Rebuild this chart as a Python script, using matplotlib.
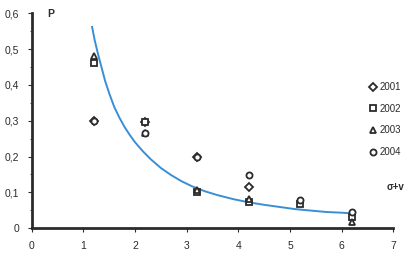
'''P versus sigma+v, yearly points with fitted curve'''

import numpy as np
import matplotlib
matplotlib.use("Agg")
import matplotlib.pyplot as plt
from matplotlib.lines import Line2D

# data
x_vals = [1.2, 2.2, 3.2, 4.2, 5.2, 6.2]
p_2001 = [0.30, 0.295, 0.20, 0.115, np.nan, np.nan]
p_2002 = [0.46, 0.295, 0.10, 0.072, 0.067, 0.030]
p_2003 = [0.48, 0.265, 0.107, 0.080, np.nan, 0.016]
p_2004 = [0.30, 0.265, 0.20, 0.147, 0.078, 0.044]
years = ["2001", "2002", "2003", "2004"]

# fitted curve, read as points along the line
curve_x = [1.17, 1.22, 1.29, 1.36, 1.42, 1.5, 1.6, 1.7, 1.8, 1.9, 2.0,
           2.15, 2.3, 2.5, 2.7, 2.9, 3.1, 3.35, 3.6, 3.9, 4.2, 4.5, 4.8,
           5.1, 5.4, 5.7, 6.0, 6.2]
curve_y = [0.562, 0.525, 0.483, 0.445, 0.412, 0.377, 0.338, 0.308, 0.282,
           0.260, 0.240, 0.215, 0.193, 0.168, 0.148, 0.131, 0.117, 0.103,
           0.092, 0.081, 0.072, 0.065, 0.059, 0.053, 0.049, 0.045, 0.043,
           0.041]

x_ticks = [0, 1, 2, 3, 4, 5, 6, 7]
y_ticks = [0, 0.1, 0.2, 0.3, 0.4, 0.5, 0.6]
y_labels = ["0", "0,1", "0,2", "0,3", "0,4", "0,5", "0,6"]

plt.rcParams['font.family'] = ['Liberation Sans', 'DejaVu Sans']
dark = "#2b2b2b"

fig = plt.figure(figsize=(4.11, 2.56), dpi=100)
ax = fig.add_axes([0.077, 0.109, 0.880, 0.839])

ax.plot(curve_x, curve_y, color="#3a8ed6", lw=1.4, zorder=2)

styles = [("D", 3.6), ("s", 3.8), ("^", 4.4), ("o", 4.4)]
series = [p_2001, p_2002, p_2003, p_2004]
for vals, (m, ms) in zip(series, styles):
    ax.plot(x_vals, vals, ls="none", marker=m, ms=ms, mfc="white",
            mec=dark, mew=1.3, zorder=3)

ax.set_xlim(0, 7)
ax.set_ylim(0, 0.6)
ax.set_xticks(x_ticks)
ax.set_yticks(y_ticks)
ax.set_yticklabels(y_labels)
ax.set_yticks(np.arange(0.05, 0.6, 0.1), minor=True)

for side in ["top", "right"]:
    ax.spines[side].set_visible(False)
for side in ["left", "bottom"]:
    ax.spines[side].set_color(dark)
    ax.spines[side].set_linewidth(2.0)

ax.tick_params(axis="x", length=3, width=0.8, color=dark, labelsize=7.5,
               labelcolor=dark, pad=6)
ax.tick_params(axis="y", which="major", length=3, width=0.8, color=dark,
               labelsize=7.5, labelcolor=dark, pad=6)
ax.tick_params(axis="y", which="minor", length=1.5, width=0.6, color=dark)

ax.text(0.044, 0.995, "P", transform=ax.transAxes, fontsize=7.5,
        fontweight="bold", color=dark, va="center")
ax.text(6.87, 0.115, "σ+v", fontsize=7, fontweight="bold", color=dark,
        va="center", clip_on=False)

handles = [Line2D([], [], ls="none", marker=m, ms=ms, mfc="white", mec=dark,
                  mew=1.3) for m, ms in styles]
leg = ax.legend(handles, years, loc="upper left",
                bbox_to_anchor=(0.937, 0.68), frameon=False, fontsize=7,
                handlelength=0.6, handletextpad=0.35, labelspacing=1.2,
                borderpad=0, borderaxespad=0)
for t in leg.get_texts():
    t.set_color(dark)

fig.savefig("out.png", dpi=100)
